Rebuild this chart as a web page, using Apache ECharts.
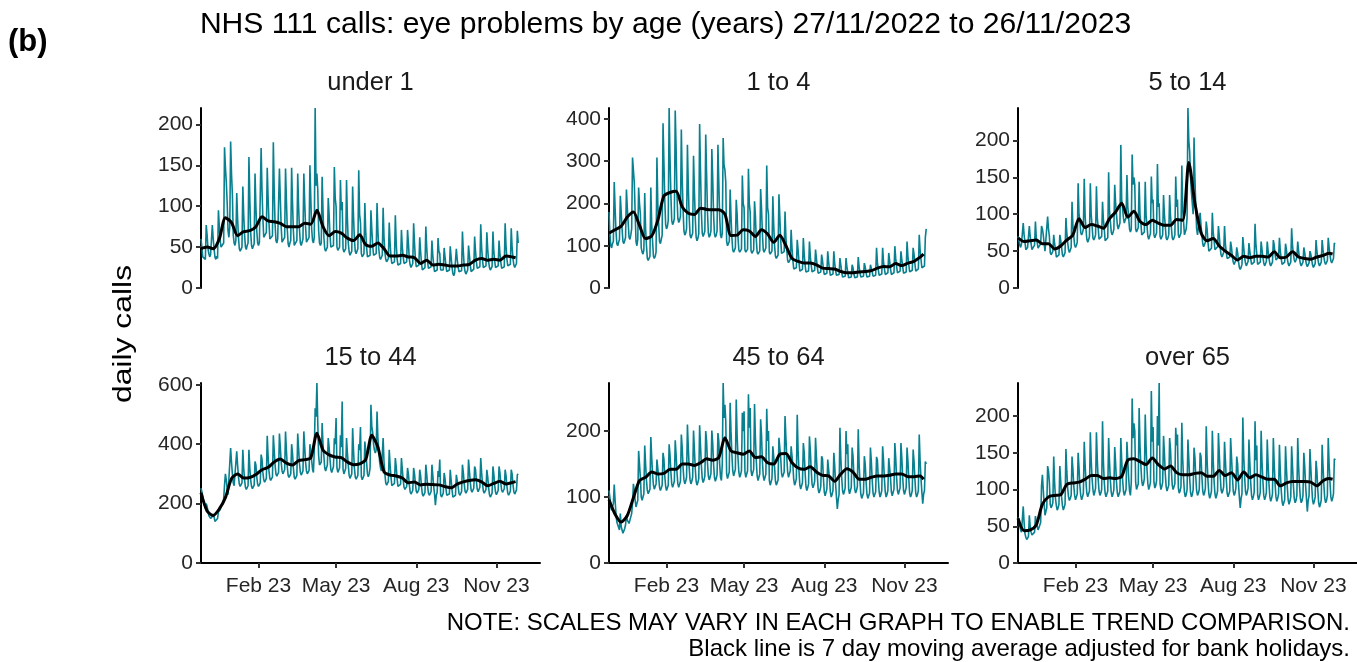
<!DOCTYPE html>
<html>
<head>
<meta charset="utf-8">
<script src="https://cdn.jsdelivr.net/npm/echarts@6/dist/echarts.min.js"></script>
<style>
html,body{margin:0;padding:0;background:#fff;}
#chart{width:1357px;height:662px;}
</style>
</head>
<body>
<div id="chart"></div>
<script>
// ---------------- DATA ----------------
// Daily calls, 27/11/2022 (Sunday) to 26/11/2023; one row per week Sun..Sat, final Sunday alone.
const panelTitles = ['under 1', '1 to 4', '5 to 14', '15 to 44', '45 to 64', 'over 65'];

const under1Daily = [
[60,50,38,36,40,35,77],[65,48,42,38,41,39,77],[60,48,38,35,39,36,95],[75,58,50,48,52,55,172],
[148,130,105,70,62,75,179],[140,115,65,55,52,58,116],[85,62,48,45,47,50,124],[90,65,50,47,52,55,160],
[110,68,52,48,50,54,140],[100,70,55,52,56,58,171],[120,85,62,60,64,68,147],[110,80,60,58,62,64,178],
[120,78,58,55,60,62,146],[110,75,56,54,58,62,146],[108,72,54,50,55,58,147],[105,70,52,50,54,58,140],
[100,72,55,52,56,60,140],[105,75,56,54,58,62,150],[110,72,58,55,62,220,125],[140,120,70,55,52,55,136],
[95,62,48,45,47,50,110],[90,65,50,48,50,52,148],[110,100,50,46,48,50,132],[95,105,48,44,46,48,132],
[85,55,44,40,42,45,124],[88,60,45,42,44,48,144],[90,80,42,38,40,42,104],[70,50,38,36,38,40,95],
[72,52,40,38,40,42,104],[70,48,38,35,36,40,98],[62,44,35,32,34,36,80],[55,38,30,28,30,32,89],
[55,36,28,26,28,30,71],[50,38,30,28,30,32,71],[55,36,28,25,27,30,79],[55,35,26,24,26,28,62],
[45,30,22,20,22,25,75],[50,32,24,22,24,26,58],[40,28,20,18,20,22,61],[45,42,22,20,20,22,49],
[38,28,20,18,20,22,51],[38,26,18,15,18,20,48],[35,26,20,18,19,21,69],[45,27,20,17,19,22,52],
[40,28,20,18,21,23,63],[45,32,24,22,24,26,78],[50,34,25,23,25,27,68],[48,33,25,22,24,26,69],
[45,33,25,23,25,27,58],[42,32,24,22,24,26,79],[52,36,27,25,27,29,73],[50,36,28,25,26,30,70],
[55]].flat();

const age1to4Daily = [
[180,130,100,95,105,110,251],[190,135,105,100,108,115,218],[180,140,110,105,112,120,233],[190,155,120,115,125,140,309],
[313,250,180,110,100,115,238],[200,175,95,85,80,90,225],[140,100,70,65,68,75,238],[150,110,75,70,75,85,309],
[200,150,110,105,115,125,390],[300,210,150,140,145,160,426],[310,220,160,150,155,165,420],[330,220,165,155,160,170,375],
[260,185,135,125,130,140,339],[240,170,125,118,122,130,313],[230,165,120,112,118,128,388],[280,180,130,122,128,135,363],
[270,180,130,120,125,135,329],[260,175,128,120,125,135,339],[250,170,125,118,130,355,290],[280,250,110,100,100,110,233],
[170,120,90,85,88,95,209],[175,120,90,85,88,92,266],[200,190,90,85,88,92,282],[200,180,88,82,85,90,205],
[170,115,85,80,82,88,234],[190,130,90,85,88,95,290],[190,175,85,80,82,88,217],[150,100,75,70,72,78,222],
[170,115,82,78,80,86,181],[120,90,65,60,62,68,138],[95,65,45,42,44,48,114],[90,60,40,38,40,44,118],
[80,55,38,35,37,40,110],[75,55,38,36,38,42,91],[70,50,35,32,34,38,79],[65,45,32,30,32,35,87],
[62,44,30,28,30,33,87],[58,42,30,27,29,32,71],[55,38,26,24,26,28,71],[50,50,24,22,24,26,55],
[48,34,24,20,23,26,73],[50,36,26,22,25,28,59],[50,36,26,23,25,28,55],[55,38,28,25,27,30,95],
[60,44,30,27,30,33,95],[62,46,32,30,32,36,83],[65,46,32,30,33,36,99],[70,52,36,33,36,40,87],
[68,50,35,32,35,38,110],[75,55,38,35,38,42,95],[80,58,40,38,40,45,126],[90,68,48,44,46,52,120],
[140]].flat();

const age5to14Daily = [
[70,65,58,55,60,62,88],[72,62,52,50,55,56,84],[70,60,52,50,54,58,90],[68,62,54,52,55,60,84],
[80,72,60,50,48,52,97],[80,70,48,45,46,50,72],[60,52,42,40,42,45,72],[65,55,45,42,44,48,95],
[75,62,52,48,50,55,117],[85,70,58,55,58,62,142],[100,92,75,72,75,80,148],[98,80,66,62,65,70,142],
[100,84,68,65,68,72,138],[95,82,66,64,67,70,117],[92,80,64,62,65,68,157],[105,90,76,72,75,80,140],
[115,100,85,80,84,88,194],[120,108,95,88,92,95,153],[110,95,80,76,80,181,140],[150,140,80,76,78,82,144],
[100,88,72,70,72,76,144],[98,85,70,66,70,74,151],[115,120,72,68,70,75,168],[110,115,70,66,68,72,126],
[100,84,68,65,68,72,126],[98,82,68,65,68,72,151],[110,120,72,68,70,75,166],[105,90,72,70,80,95,244],
[200,185,150,130,115,100,204],[150,110,80,72,70,72,102],[85,72,60,56,58,62,90],[80,62,50,48,50,54,102],
[75,65,52,50,52,56,84],[70,55,45,42,44,48,84],[60,48,40,38,40,42,63],[55,42,35,32,34,38,55],
[48,36,28,25,28,32,69],[55,42,34,30,33,36,61],[50,40,32,30,32,35,87],[60,62,32,30,32,35,63],
[52,42,34,30,32,36,63],[50,40,33,30,32,35,65],[58,46,38,36,38,42,68],[50,40,32,30,32,35,60],
[52,40,33,30,32,35,81],[58,46,38,35,38,42,63],[50,40,33,30,32,35,55],[48,38,32,29,31,34,50],
[46,38,31,28,30,33,65],[50,40,33,30,32,35,65],[52,42,35,32,34,37,68],[55,45,37,34,36,40,61],
[60]].flat();

const age15to44Daily = [
[252,240,225,210,195,185,200],[190,175,160,155,150,150,157],[165,155,140,135,145,150,172],[175,180,190,195,200,215,262],
[300,280,250,230,225,235,387],[340,300,270,260,255,265,376],[330,290,265,258,262,270,381],[320,280,255,248,250,260,381],
[320,280,258,250,252,262,342],[330,290,265,258,262,270,365],[350,305,280,272,275,285,428],[360,310,285,278,280,290,430],
[380,330,300,292,296,305,436],[390,340,310,300,305,315,443],[380,325,295,288,292,300,400],[370,320,290,282,286,295,436],
[385,335,305,296,300,310,443],[390,340,310,300,305,312,400],[400,345,315,305,380,521,493],[606,471,360,330,325,340,471],
[400,360,320,310,315,330,421],[390,350,315,305,310,325,420],[400,488,320,305,310,320,430],[390,544,315,300,305,318,421],
[370,330,295,285,290,300,454],[380,320,290,282,285,295,400],[380,458,290,280,285,295,409],[380,340,300,290,300,320,533],
[460,440,400,380,370,380,510],[420,380,340,320,310,315,421],[340,300,270,262,265,275,381],[330,290,260,255,258,268,353],
[325,285,258,252,255,265,353],[315,280,255,248,250,258,320],[300,265,240,232,235,245,320],[300,268,242,235,238,248,314],
[295,258,232,225,228,238,331],[300,260,235,228,230,240,331],[295,258,232,195,228,238,310],[290,348,230,222,225,235,303],
[285,252,228,222,225,232,314],[280,248,222,218,220,228,297],[295,260,235,228,230,240,331],[305,268,242,235,238,248,348],
[310,272,245,238,242,252,325],[315,275,248,240,244,255,353],[305,268,242,235,238,248,314],[290,255,230,222,226,235,325],
[300,262,238,230,234,244,325],[305,270,245,238,240,250,314],[295,260,235,228,232,242,314],[300,265,240,232,236,246,297],
[300]].flat();

const age45to64Daily = [
[110,100,85,80,78,90,119],[95,75,62,58,55,50,75],[55,50,45,48,52,58,72],[65,62,60,65,70,75,90],
[120,110,95,85,90,95,170],[150,130,100,95,100,105,178],[150,125,110,105,108,112,191],[160,135,118,112,115,120,157],
[155,130,115,110,112,118,167],[158,132,116,110,113,118,180],[165,138,120,115,118,124,186],[165,138,120,115,118,124,195],
[175,145,126,120,124,130,210],[175,145,126,120,124,130,201],[172,143,124,118,122,128,209],[178,148,128,122,126,132,200],
[185,152,132,126,130,136,201],[182,150,130,124,128,134,197],[185,150,130,125,150,273,220],[240,215,135,128,130,138,243],
[200,165,140,132,135,142,248],[195,160,138,130,134,140,228],[200,230,138,130,132,140,256],[205,235,140,132,134,142,241],
[190,155,132,125,128,135,218],[195,155,132,125,128,135,234],[185,200,125,118,120,128,177],[175,145,124,118,120,126,190],
[190,160,136,130,132,138,223],[190,160,138,130,132,140,177],[178,148,126,118,122,128,225],[170,140,118,112,115,122,182],
[168,138,116,110,114,120,192],[172,142,120,114,118,124,190],[162,134,112,106,110,116,162],[158,130,108,102,105,112,157],
[155,128,108,100,104,110,167],[148,120,100,82,96,104,205],[160,130,110,104,108,114,200],[165,180,112,105,108,115,175],
[162,134,112,106,110,116,203],[150,124,104,98,100,106,162],[150,124,104,98,100,106,175],[155,126,106,100,102,108,161],
[156,128,108,100,104,110,177],[156,128,108,100,104,110,159],[158,130,108,102,105,112,182],[160,130,110,104,106,114,182],
[160,130,110,104,106,114,175],[155,128,106,100,104,110,172],[155,128,106,100,104,110,195],[155,128,108,90,104,110,154],
[150]].flat();

const over65Daily = [
[62,58,50,45,42,40,77],[55,40,35,32,34,36,65],[50,42,38,36,40,42,64],[55,50,45,48,50,55,105],
[120,100,80,65,70,75,132],[125,110,80,75,78,82,145],[110,88,78,72,75,80,132],[112,90,78,72,76,80,155],
[125,102,90,85,88,92,145],[128,105,92,86,90,94,150],[130,105,92,86,90,95,165],[135,110,95,90,92,98,178],
[140,115,100,92,96,102,178],[140,114,98,92,95,100,193],[138,110,95,90,92,98,170],[138,112,96,90,94,100,158],
[136,110,95,90,92,98,170],[140,114,98,92,96,100,165],[140,115,98,92,110,224,170],[190,180,110,100,102,108,211],
[160,132,112,105,108,115,202],[158,128,108,100,104,110,234],[165,185,110,102,105,112,200],[160,245,108,100,104,110,173],
[150,122,104,98,100,106,170],[155,126,106,100,102,108,184],[160,175,102,95,98,104,191],[142,115,96,90,93,100,168],
[142,115,96,90,93,100,157],[144,117,98,92,95,100,150],[145,118,98,92,95,102,186],[140,112,94,88,92,98,180],
[140,112,94,88,92,98,177],[148,120,100,95,98,104,165],[140,114,95,90,92,98,170],[145,118,98,92,95,102,145],
[135,108,90,75,88,94,198],[146,118,98,92,96,102,168],[138,110,92,86,90,96,193],[140,160,92,86,90,96,180],
[138,112,92,86,90,96,168],[135,108,90,84,88,94,170],[135,108,90,84,88,94,161],[125,100,84,78,80,86,159],
[130,104,86,80,84,90,159],[132,106,88,82,85,92,170],[132,106,88,82,85,92,150],[132,106,88,70,85,92,155],
[130,105,86,80,84,90,139],[125,100,82,76,80,86,161],[132,106,88,82,85,92,170],[135,110,90,84,88,94,142],
[140]].flat();

// 7 day moving average, read every 7 days from 27/11/2022, last value 4 days later
const under1MA   = [48,50,48,60,86,80,64,69,70,75,87,82,81,79,75,75,75,79,78,95,75,64,69,67,61,58,65,53,51,55,48,39,39,40,38,37,30,34,28,29,28,27,27,28,29,34,36,34,35,34,39,38,37];
const age1to4MA  = [130,138,146,168,180,148,117,123,160,218,226,229,192,177,174,189,186,185,185,175,124,125,138,135,122,138,128,108,125,100,70,63,59,59,55,47,46,45,39,36,36,38,39,41,47,51,50,58,53,59,63,73,80];
const age5to14MA = [68,63,64,65,60,60,53,57,65,72,94,82,86,84,81,94,103,115,96,104,90,86,92,88,85,85,93,92,170,115,75,64,67,57,50,44,38,43,41,43,43,42,49,41,42,49,42,40,39,42,44,47,46];
const age15to44MA = [236,175,160,182,220,284,300,286,288,298,314,322,340,350,336,330,345,348,354,437,380,364,357,355,340,331,334,348,430,390,307,296,293,286,270,273,263,265,264,263,257,253,266,273,278,280,273,260,268,275,266,271,274];
const age45to64MA = [96,74,62,72,99,125,130,138,135,136,142,142,150,150,148,152,158,156,160,190,170,167,165,170,160,161,152,150,165,166,152,144,142,146,138,133,132,124,135,143,138,127,127,130,132,132,133,135,135,131,131,132,127];
const over65MA   = [61,44,45,52,80,90,92,93,107,109,110,114,119,119,115,116,115,118,140,142,138,134,143,134,128,132,123,120,120,122,123,118,118,126,119,123,113,124,116,120,117,114,114,105,109,111,111,111,110,105,112,115,114];

// y tick labels per panel
const yTicks = [
  [0,50,100,150,200],
  [0,100,200,300,400],
  [0,50,100,150,200],
  [0,200,400,600],
  [0,100,200],
  [0,50,100,150,200]
];
const xTickLabels = ['Feb 23','May 23','Aug 23','Nov 23'];
const xTickDates = [[2023,1,1],[2023,4,1],[2023,7,1],[2023,10,1]];

// ---------------- BUILD ----------------
const DAY = 86400000;
const startDate = Date.UTC(2022, 10, 27);
const dayOf = (y, m, d) => Math.round((Date.UTC(y, m, d) - startDate) / DAY);
const XMAX = dayOf(2023, 11, 21);
const xTickDays = xTickDates.map(d => dayOf(d[0], d[1], d[2]));
const dailyAll = [under1Daily, age1to4Daily, age5to14Daily, age15to44Daily, age45to64Daily, over65Daily];
const maAll = [under1MA, age1to4MA, age5to14MA, age15to44MA, age45to64MA, over65MA];
const maDay = i => (i < 52 ? i * 7 : 361);

const FONT = '"Liberation Sans", Arial, Helvetica, sans-serif';
const colLeft = [201, 609, 1018];
const rowTop = [108, 383];
const PW = 339, PH = 180;
const TEAL = '#08808f';

const grids = [], xAxes = [], yAxes = [], series = [], texts = [];
for (let p = 0; p < 6; p++) {
  const r = Math.floor(p / 3), c = p % 3;
  const bottom = r === 1;
  grids.push({left: colLeft[c], top: rowTop[r], width: PW, height: PH});
  xAxes.push({
    type: 'value', gridIndex: p, min: 0, max: XMAX, show: bottom,
    axisLine: {show: bottom, onZero: false, lineStyle: {color: '#000', width: 2}},
    axisTick: {show: bottom, length: 5, lineStyle: {color: '#333', width: 2}, customValues: xTickDays},
    axisLabel: {show: bottom, customValues: xTickDays, fontSize: 21, color: '#262626', fontFamily: FONT, margin: 13,
      formatter: v => { const i = xTickDays.indexOf(v); return i >= 0 ? xTickLabels[i] : ''; }},
    splitLine: {show: false}
  });
  const ymax = Math.max(...dailyAll[p]);
  yAxes.push({
    type: 'value', gridIndex: p, min: 0, max: ymax,
    axisLine: {show: true, onZero: false, lineStyle: {color: '#000', width: 2}},
    axisTick: {show: true, length: 5, lineStyle: {color: '#333', width: 2}, customValues: yTicks[p]},
    axisLabel: {customValues: yTicks[p], fontSize: 21, color: '#262626', fontFamily: FONT, margin: 8},
    splitLine: {show: false}
  });
  series.push({
    type: 'line', xAxisIndex: p, yAxisIndex: p, symbol: 'none', silent: true,
    lineStyle: {color: TEAL, width: 1.6},
    data: dailyAll[p].map((v, i) => [i, v])
  });
  series.push({
    type: 'line', xAxisIndex: p, yAxisIndex: p, symbol: 'none', silent: true, smooth: 0.25,
    lineStyle: {color: '#000', width: 3},
    data: maAll[p].map((v, i) => [maDay(i), v])
  });
  texts.push({type: 'text', x: colLeft[c] + PW / 2, y: rowTop[r] - 25,
    style: {text: panelTitles[p], font: '25.5px ' + FONT, fill: '#1a1a1a', textAlign: 'center', textVerticalAlign: 'middle'}});
}

texts.push({type: 'text', x: 8, y: 42,
  style: {text: '(b)', font: 'bold 31px ' + FONT, fill: '#000', textAlign: 'left', textVerticalAlign: 'middle'}});
texts.push({type: 'text', x: 665.5, y: 25,
  style: {text: 'NHS 111 calls: eye problems by age (years) 27/11/2022 to 26/11/2023', font: '30.1px ' + FONT, fill: '#000', textAlign: 'center', textVerticalAlign: 'middle'}});
texts.push({type: 'text', x: 124, y: 334, rotation: Math.PI / 2, scaleX: 1.25,
  style: {text: 'daily calls', font: '25.5px ' + FONT, fill: '#000', textAlign: 'center', textVerticalAlign: 'middle'}});
texts.push({type: 'text', x: 1350, y: 623,
  style: {text: 'NOTE: SCALES MAY VARY IN EACH GRAPH TO ENABLE TREND COMPARISON.', font: '24px ' + FONT, fill: '#000', textAlign: 'right', textVerticalAlign: 'middle'}});
texts.push({type: 'text', x: 1350, y: 649,
  style: {text: 'Black line is 7 day moving average adjusted for bank holidays.', font: '24px ' + FONT, fill: '#000', textAlign: 'right', textVerticalAlign: 'middle'}});

const chart = echarts.init(document.getElementById('chart'), null, {renderer: 'canvas'});
chart.setOption({
  animation: false,
  backgroundColor: '#fff',
  textStyle: {fontFamily: FONT},
  grid: grids, xAxis: xAxes, yAxis: yAxes, series: series,
  graphic: texts
});
</script>
</body>
</html>
